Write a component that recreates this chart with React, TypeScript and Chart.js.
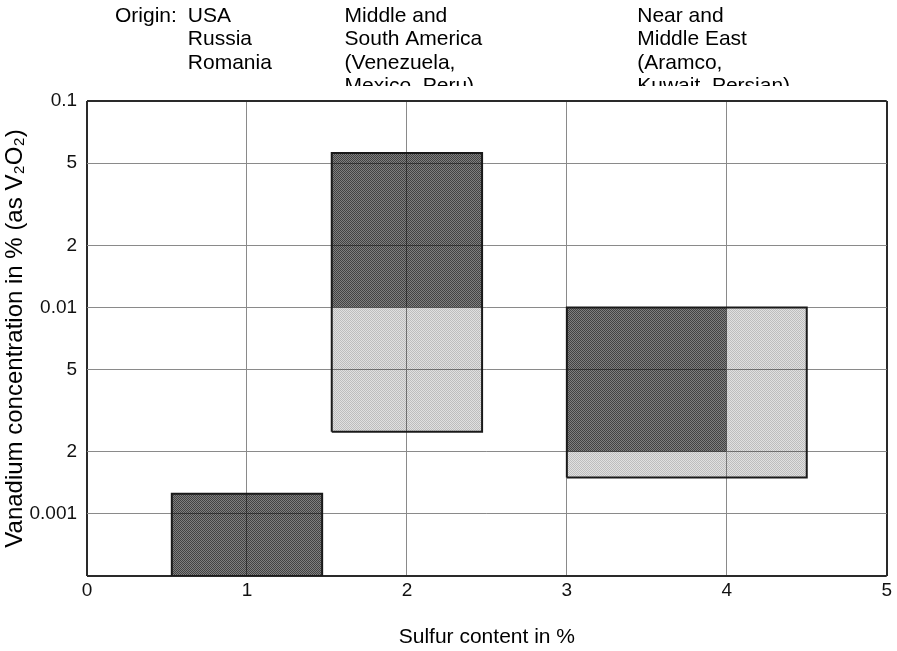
import React, { useEffect, useRef } from "react";
import { Chart, registerables } from "chart.js";

Chart.register(...registerables);

// ---- Axis ticks ----
const sulfurTicks = [0, 1, 2, 3, 4, 5];
const vanadiumTicks = [0.0005, 0.001, 0.002, 0.005, 0.01, 0.02, 0.05, 0.1];
const vanadiumTickLabels = ["", "0.001", "2", "5", "0.01", "2", "5", "0.1"];

// ---- Overall range per origin group (outline) ----
const groupNames = ["USA, Russia, Romania", "Middle and South America", "Near and Middle East"];
const groupSulfurMin = [0.53, 1.53, 3.0];
const groupSulfurMax = [1.47, 2.47, 4.5];
const groupVanadiumMin = [0.0005, 0.0025, 0.0015];
const groupVanadiumMax = [0.00125, 0.056, 0.01];

// ---- Dark (dense) zones ----
const darkSulfurMin = [0.53, 1.53, 3.0];
const darkSulfurMax = [1.47, 2.47, 4.0];
const darkVanadiumMin = [0.0005, 0.01, 0.002];
const darkVanadiumMax = [0.00125, 0.056, 0.01];

// ---- Light zones ----
const lightSulfurMin = [1.53, 4.0, 3.0];
const lightSulfurMax = [2.47, 4.5, 4.0];
const lightVanadiumMin = [0.0025, 0.0015, 0.0015];
const lightVanadiumMax = [0.01, 0.01, 0.002];

// ---- Origin captions ----
const originHeading = "Origin:";
const originLines = [
  ["USA", "Russia", "Romania"],
  ["Middle and", "South America", "(Venezuela,", "Mexico, Peru)"],
  ["Near and", "Middle East", "(Aramco,", "Kuwait, Persian)"],
];
const originSulfur = [0.63, 1.61, 3.44];

const FONT = '"Liberation Sans", Arial, Helvetica, sans-serif';

function makePattern(a: string, b: string) {
  const c = document.createElement("canvas");
  c.width = 2;
  c.height = 2;
  const g = c.getContext("2d")!;
  g.fillStyle = a;
  g.fillRect(0, 0, 1, 1);
  g.fillRect(1, 1, 1, 1);
  g.fillStyle = b;
  g.fillRect(1, 0, 1, 1);
  g.fillRect(0, 1, 1, 1);
  return g.createPattern(c, "repeat")!;
}

const originPlugin = {
  id: "originText",
  afterDraw(chart: any) {
    const { ctx } = chart;
    const xs = chart.scales.x;
    ctx.save();
    ctx.beginPath();
    ctx.rect(0, 0, chart.width, 86);
    ctx.clip();
    ctx.font = `21px ${FONT}`;
    ctx.fillStyle = "#000";
    ctx.textBaseline = "alphabetic";
    ctx.textAlign = "left";
    const base = 22;
    const lh = 23.3;
    const firstX = xs.getPixelForValue(originSulfur[0]);
    const w = ctx.measureText(originHeading).width;
    ctx.fillText(originHeading, firstX - w - 11, base);
    originLines.forEach((lines, i) => {
      const px = xs.getPixelForValue(originSulfur[i]);
      lines.forEach((t, j) => ctx.fillText(t, px, base + j * lh));
    });
    ctx.restore();
  },
};

export default function App() {
  const ref = useRef<HTMLCanvasElement>(null);

  useEffect(() => {
    document.body.style.margin = "0";
    document.body.style.overflow = "hidden";
    Chart.defaults.font.family = FONT;

    const dark = makePattern("rgba(0,0,0,0.74)", "rgba(0,0,0,0.5)");
    const light = makePattern("rgba(0,0,0,0.26)", "rgba(0,0,0,0.12)");

    const fillSet = (x0: number, x1: number, y0: number, y1: number, bg: any, label: string) => ({
      label,
      data: [
        { x: x0, y: y1 },
        { x: x1, y: y1 },
      ],
      fill: { value: y0 },
      backgroundColor: bg,
      borderColor: "rgba(0,0,0,0)",
      borderWidth: 0,
      pointRadius: 0,
      tension: 0,
      order: 2,
    });

    const datasets: any[] = [];
    darkSulfurMin.forEach((_, i) =>
      datasets.push(
        fillSet(darkSulfurMin[i], darkSulfurMax[i], darkVanadiumMin[i], darkVanadiumMax[i], dark, "dark " + groupNames[i])
      )
    );
    lightSulfurMin.forEach((_, i) =>
      datasets.push(
        fillSet(lightSulfurMin[i], lightSulfurMax[i], lightVanadiumMin[i], lightVanadiumMax[i], light, "light " + i)
      )
    );
    groupNames.forEach((name, i) => {
      const x0 = groupSulfurMin[i], x1 = groupSulfurMax[i];
      const y0 = groupVanadiumMin[i], y1 = groupVanadiumMax[i];
      datasets.push({
        label: name,
        data: [
          { x: x0, y: y0 },
          { x: x0, y: y1 },
          { x: x1, y: y1 },
          { x: x1, y: y0 },
          { x: x0, y: y0 },
        ],
        fill: false,
        borderColor: "#1a1a1a",
        borderWidth: 2,
        borderJoinStyle: "miter",
        pointRadius: 0,
        tension: 0,
        order: 0,
      });
    });

    const isEdgeY = (v: number) => Math.abs(v - 0.1) < 1e-9 || Math.abs(v - 0.0005) < 1e-9;
    const isEdgeX = (v: number) => v === 0 || v === 5;

    const chart = new Chart(ref.current!, {
      type: "line",
      data: { datasets },
      plugins: [originPlugin],
      options: {
        animation: false,
        responsive: true,
        maintainAspectRatio: false,
        layout: { autoPadding: false, padding: { top: 101, right: 10, bottom: 3, left: 3.5 } },
        plugins: {
          legend: { display: false },
          tooltip: { enabled: false },
          title: { display: false },
        },
        scales: {
          x: {
            type: "linear",
            min: 0,
            max: 5,
            afterBuildTicks: (s: any) => {
              s.ticks = sulfurTicks.map((v) => ({ value: v }));
            },
            ticks: {
              autoSkip: false,
              maxRotation: 0,
              padding: 5,
              color: "#111",
              font: { size: 19, lineHeight: 1 },
              callback: (v: any) => String(v),
            },
            grid: {
              drawTicks: false,
              color: (c: any) => (c.tick && isEdgeX(c.tick.value) ? "#2a2a2a" : "#8a8a8a"),
              lineWidth: (c: any) => (c.tick && isEdgeX(c.tick.value) ? 2 : 1),
            },
            border: { display: false },
            title: {
              display: true,
              text: "Sulfur content in %",
              color: "#000",
              font: { size: 21, lineHeight: 1 },
              padding: { top: 22, bottom: 0 },
            },
          },
          y: {
            type: "logarithmic",
            min: 0.0005,
            max: 0.1,
            afterBuildTicks: (s: any) => {
              s.ticks = vanadiumTicks.map((v) => ({ value: v }));
            },
            ticks: {
              autoSkip: false,
              padding: 10,
              color: "#111",
              font: { size: 19, lineHeight: 1 },
              callback: (v: any) => {
                const i = vanadiumTicks.findIndex((t) => Math.abs(t - v) / t < 1e-6);
                return i >= 0 ? vanadiumTickLabels[i] : "";
              },
            },
            grid: {
              drawTicks: false,
              color: (c: any) => (c.tick && isEdgeY(c.tick.value) ? "#2a2a2a" : "#8a8a8a"),
              lineWidth: (c: any) => (c.tick && isEdgeY(c.tick.value) ? 2 : 1),
            },
            border: { display: false },
            title: {
              display: true,
              text: "Vanadium concentration in % (as V\u2082O\u2082)",
              color: "#000",
              font: { size: 24, lineHeight: 1 },
              padding: { top: 0, bottom: -8 },
            },
          },
        },
      } as any,
    });

    return () => chart.destroy();
  }, []);

  return (
    <div style={{ position: "relative", width: 897, height: 651 }}>
      <canvas ref={ref} />
    </div>
  );
}
